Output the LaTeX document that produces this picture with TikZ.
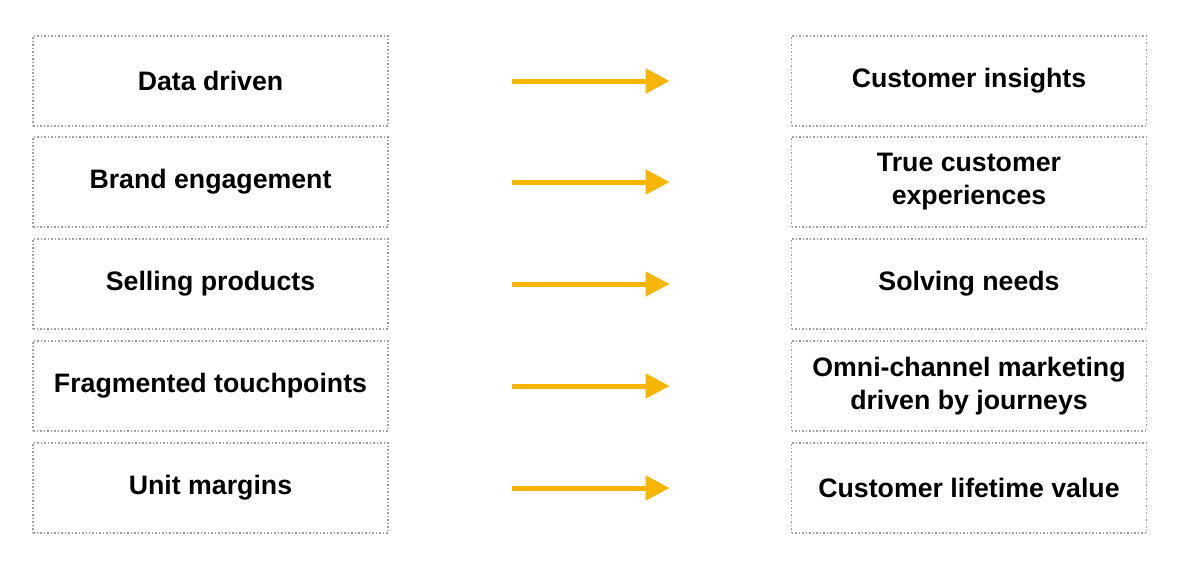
\documentclass[tikz,border=0pt]{standalone}
\usepackage{fontspec}
\setmainfont{Liberation Sans}
\usetikzlibrary{arrows.meta}
\definecolor{arrowyellow}{HTML}{F7B500}
\definecolor{boxgray}{HTML}{A0A0A0}
\tikzset{
  item/.style={draw=boxgray, line width=0.18mm, dash pattern=on 0.15mm off 0.2mm,
    minimum width=35.5mm, minimum height=9mm,
    align=center, font=\fontsize{7.6}{9.4}\selectfont\bfseries},
  turn/.style={draw=arrowyellow, line width=0.5mm, -{Triangle[length=2.4mm,width=2.4mm]},
    shorten <=12.3mm, shorten >=12.1mm}
}
\begin{document}
\begin{tikzpicture}[x=0.1mm,y=-0.1mm]
\useasboundingbox (0,0) rectangle (1182,564);
\node[item] (old1) at (210.5,81) {Data driven};
\node[item] (old2) at (210.5,182) {Brand engagement};
\node[item] (old3) at (210.5,284) {Selling products};
\node[item] (old4) at (210.5,386) {Fragmented touchpoints};
\node[item] (old5) at (210.5,488) {Unit margins};
\node[item] (new1) at (969,81) {Customer insights};
\node[item] (new2) at (969,182) {True customer\\experiences};
\node[item] (new3) at (969,284) {Solving needs};
\node[item] (new4) at (969,386) {Omni-channel marketing\\driven by journeys};
\node[item] (new5) at (969,488) {Customer lifetime value};
\foreach \i in {1,...,5}
  \draw[turn] (old\i.east) -- (new\i.west);
\end{tikzpicture}
\end{document}
